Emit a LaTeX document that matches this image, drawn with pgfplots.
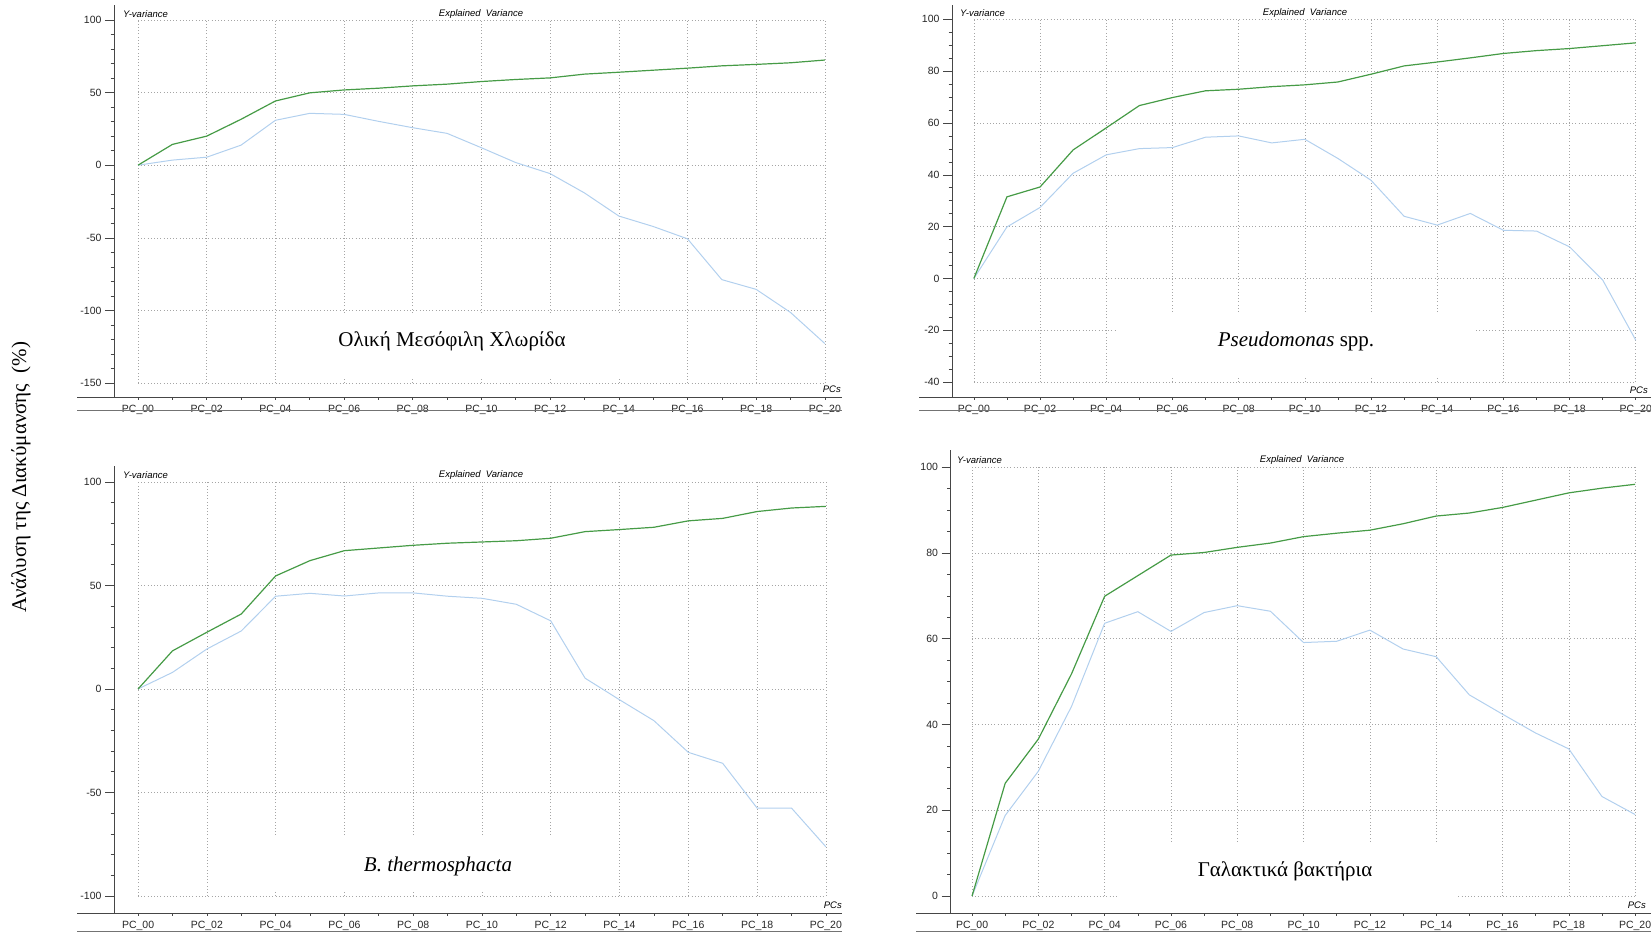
\documentclass[border=0pt]{standalone}
\usepackage{pgfplots}
\pgfplotsset{compat=1.18}
\usepackage{pgfplotstable}
\usepackage{fontspec}
\setmainfont{Liberation Serif}
\newfontfamily\arial{Liberation Sans}
\definecolor{calgreen}{RGB}{70,155,70}
\definecolor{valblue}{RGB}{178,208,238}
\definecolor{axcol}{RGB}{70,70,70}
\definecolor{gridcol}{RGB}{165,165,165}

\pgfplotstableread{
pc cal val
0 0 0
1 14.3 3.5
2 20.0 5.5
3 31.6 13.8
4 44.2 30.9
5 49.8 35.7
6 51.8 35.0
7 53.0 30.2
8 54.6 25.8
9 55.8 21.9
10 57.6 12.0
11 59.0 1.8
12 60.1 -5.8
13 62.7 -19.1
14 64.0 -35.0
15 65.4 -42.2
16 66.8 -50.7
17 68.4 -78.8
18 69.4 -85.5
19 70.5 -101.4
20 72.4 -122.8
}\dataA

\pgfplotstableread{
pc cal val
0 0 0
1 31.5 19.9
2 35.3 27.4
3 49.6 40.6
4 58.1 47.7
5 66.7 50.1
6 69.8 50.5
7 72.4 54.5
8 73.0 55.0
9 74.0 52.3
10 74.7 53.7
11 75.8 46.3
12 78.8 37.9
13 82.0 24.0
14 83.5 20.6
15 85.1 25.1
16 86.8 18.6
17 87.9 18.3
18 88.7 12.2
19 89.8 -0.6
20 90.9 -23.8
}\dataB

\pgfplotstableread{
pc cal val
0 0 0
1 18.4 8.0
2 27.4 19.3
3 36.2 28.0
4 54.6 44.8
5 62.0 46.2
6 66.8 44.9
7 68.1 46.4
8 69.4 46.4
9 70.4 44.8
10 71.0 43.8
11 71.6 40.9
12 72.8 32.9
13 76.0 5.2
14 77.0 -5.2
15 78.1 -15.3
16 81.2 -30.6
17 82.4 -35.9
18 85.7 -57.5
19 87.4 -57.5
20 88.2 -76.2
}\dataC

\pgfplotstableread{
pc cal val
0 0 0
1 26.3 18.8
2 36.6 29.1
3 51.8 44.2
4 69.9 63.6
5 74.7 66.3
6 79.5 61.7
7 80.1 66.1
8 81.3 67.7
9 82.3 66.4
10 83.8 59.1
11 84.6 59.4
12 85.3 62.0
13 86.8 57.6
14 88.6 55.8
15 89.3 46.9
16 90.6 42.4
17 92.3 38.0
18 94.0 34.3
19 95.1 23.2
20 96.0 19.0
}\dataD

\tikzset{gridl/.style={gridcol, line width=0.6pt, dash pattern=on 0.8pt off 2.4pt}}
\pgfplotsset{
  panel/.style={
    scale only axis,
    anchor=south west,
    axis x line=bottom, axis y line=left,
    every outer x axis line/.append style={-, draw=axcol, line width=0.8pt},
    every outer y axis line/.append style={-, draw=axcol, line width=0.8pt},
    tick align=outside,
    tick style={axcol, line width=0.6pt},
    major tick length=9pt, minor tick length=3.5pt,
    x tick style={/pgfplots/major tick length=3pt,/pgfplots/minor tick length=3pt},
    xtick={0,2,...,20}, minor xtick={1,3,...,19},
    xticklabels={PC\_00,PC\_02,PC\_04,PC\_06,PC\_08,PC\_10,PC\_12,PC\_14,PC\_16,PC\_18,PC\_20},
    ticklabel style={font=\arial\fontsize{10.5}{11}\selectfont, text=black!85},
    xticklabel style={inner sep=0pt, yshift=1pt},
    /pgf/number format/assume math mode=true,
  },
  cal/.style={calgreen, line width=1.2pt},
  val/.style={valblue, line width=1pt},
}
\newcommand{\smallit}{\arial\itshape\fontsize{9.5}{10}\selectfont}
\newcommand{\bigt}{\fontsize{21}{24}\selectfont}

\begin{document}
\begin{tikzpicture}
\useasboundingbox (0pt,0pt) rectangle (1651pt,933pt);

% Panel 1
\begin{axis}[panel, at={(114pt,536pt)}, width=728pt, height=392pt,
  xmin=-0.70, xmax=20.5, ymin=-159.6, ymax=110.3,
  ytick={-150,-100,...,100}, minor y tick num=4]
  \pgfplotsinvokeforeach{0,2,...,20}{\draw[gridl] (axis cs:#1,-150) -- (axis cs:#1,100);}
  \pgfplotsinvokeforeach{-150,-100,...,100}{\draw[gridl] (axis cs:0,#1) -- (axis cs:20,#1);}
  \addplot[val] table[x=pc,y=val]{\dataA};
  \addplot[cal] table[x=pc,y=cal]{\dataA};
\end{axis}

% Panel 2
\begin{axis}[panel, at={(952pt,536pt)}, width=699pt, height=392pt,
  xmin=-0.66, xmax=20.46, ymin=-45.7, ymax=105.5,
  ytick={-40,-20,...,100}, minor y tick num=3]
  \pgfplotsinvokeforeach{0,2,...,20}{\draw[gridl] (axis cs:#1,-40) -- (axis cs:#1,100);}
  \pgfplotsinvokeforeach{-40,-20,...,100}{\draw[gridl] (axis cs:0,#1) -- (axis cs:20,#1);}
  \addplot[val] table[x=pc,y=val]{\dataB};
  \addplot[cal] table[x=pc,y=cal]{\dataB};
\end{axis}

% Panel 3
\begin{axis}[panel, at={(114pt,20pt)}, width=728pt, height=447pt,
  xmin=-0.70, xmax=20.47, ymin=-108.2, ymax=107.7,
  ytick={-100,-50,...,100}, minor y tick num=4]
  \pgfplotsinvokeforeach{0,2,...,20}{\draw[gridl] (axis cs:#1,-100) -- (axis cs:#1,100);}
  \pgfplotsinvokeforeach{-100,-50,...,100}{\draw[gridl] (axis cs:0,#1) -- (axis cs:20,#1);}
  \addplot[val] table[x=pc,y=val]{\dataC};
  \addplot[cal] table[x=pc,y=cal]{\dataC};
\end{axis}

% Panel 4
\begin{axis}[panel, at={(950.5pt,20pt)}, width=700.5pt, height=463pt,
  xmin=-0.65, xmax=20.48, ymin=-3.96, ymax=104,
  ytick={0,20,...,100}, minor y tick num=3]
  \pgfplotsinvokeforeach{0,2,...,20}{\draw[gridl] (axis cs:#1,0) -- (axis cs:#1,100);}
  \pgfplotsinvokeforeach{0,20,...,100}{\draw[gridl] (axis cs:0,#1) -- (axis cs:20,#1);}
  \addplot[val] table[x=pc,y=val]{\dataD};
  \addplot[cal] table[x=pc,y=cal]{\dataD};
\end{axis}

% axis line extensions and lower rules
\draw[axcol, line width=0.8pt] (77pt,536pt) -- (114pt,536pt);
\draw[axcol, line width=0.8pt] (919pt,536pt) -- (952pt,536pt);
\draw[axcol, line width=0.8pt] (77pt,20pt) -- (114pt,20pt);
\draw[axcol, line width=0.8pt] (916pt,20pt) -- (950.5pt,20pt);
\draw[black!55, line width=0.6pt] (77pt,523pt) -- (842pt,523pt);
\draw[black!55, line width=0.6pt] (919pt,523pt) -- (1651pt,523pt);
\draw[black!55, line width=0.6pt] (77pt,2pt) -- (842pt,2pt);
\draw[black!55, line width=0.6pt] (916pt,2pt) -- (1651pt,2pt);

% small labels
\node[anchor=west, font=\smallit, inner sep=0pt] at (123pt,919pt) {Y-variance};
\node[font=\smallit, inner sep=0pt] at (481pt,919pt) {Explained\ \ Variance};
\node[anchor=east, font=\smallit, inner sep=0pt] at (841pt,544pt) {PCs};
\node[anchor=west, font=\smallit, inner sep=0pt] at (960pt,920pt) {Y-variance};
\node[font=\smallit, inner sep=0pt] at (1305pt,920pt) {Explained\ \ Variance};
\node[anchor=east, font=\smallit, inner sep=0pt] at (1648pt,543pt) {PCs};
\node[anchor=west, font=\smallit, inner sep=0pt] at (123pt,458pt) {Y-variance};
\node[font=\smallit, inner sep=0pt] at (481pt,458pt) {Explained\ \ Variance};
\node[anchor=east, font=\smallit, inner sep=0pt] at (842pt,28pt) {PCs};
\node[anchor=west, font=\smallit, inner sep=0pt] at (957pt,473pt) {Y-variance};
\node[font=\smallit, inner sep=0pt] at (1302pt,473pt) {Explained\ \ Variance};
\node[anchor=east, font=\smallit, inner sep=0pt] at (1646pt,28pt) {PCs};

% title boxes
\fill[white] (290pt,554pt) rectangle (660pt,620pt);
\fill[white] (1116pt,555pt) rectangle (1474pt,620pt);
\fill[white] (240pt,43pt) rectangle (585pt,95pt);
\fill[white] (1119pt,25pt) rectangle (1458pt,91pt);
\node[font=\bigt] at (452pt,592pt) {Ολική Μεσόφιλη Χλωρίδα};
\node[font=\bigt] at (1296pt,592pt) {\textit{Pseudomonas} spp.};
\node[font=\bigt] at (438pt,67pt) {\textit{B. thermosphacta}};
\node[font=\bigt] at (1285pt,62pt) {Γαλακτικά βακτήρια};

% y label
\node[rotate=90, font=\bigt] at (21pt,456pt) {Ανάλυση της Διακύμανσης\ \ (\%)};
\end{tikzpicture}
\end{document}
